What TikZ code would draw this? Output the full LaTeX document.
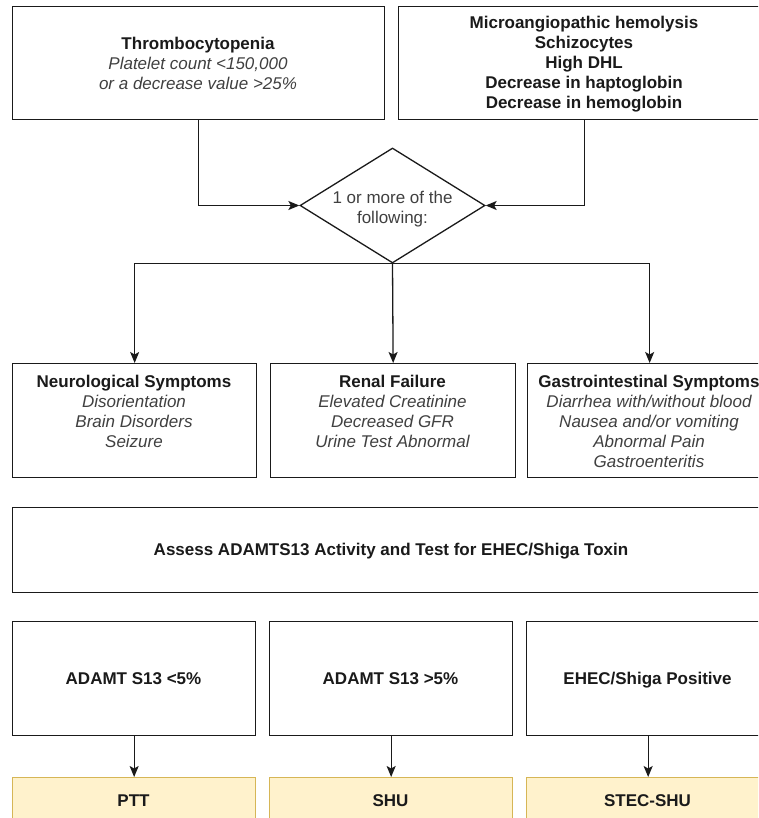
\documentclass[tikz,border=0pt]{standalone}
\usepackage{fontspec}
\setmainfont{Liberation Sans}
\usetikzlibrary{arrows.meta,shapes.geometric}
\definecolor{edge}{HTML}{1A1A1A}
\definecolor{sub}{HTML}{404040}
\definecolor{yfill}{HTML}{FFF2CC}
\definecolor{ystroke}{HTML}{D6B656}
\tikzset{
  box/.style={draw=edge, line width=1.3pt, rectangle, inner sep=0pt, anchor=north west},
  ybox/.style={box, draw=ystroke, fill=yfill},
  lbl/.style={inner sep=0pt, align=center, font=\fontsize{17}{20}\selectfont, text=edge},
  arr/.style={draw=edge, line width=1.3pt, -{Stealth[length=11pt,width=9pt,inset=2.5pt]}},
}
\newcommand{\hd}[1]{{\bfseries #1}}
\newcommand{\itl}[1]{{\itshape\color{sub}#1}}
\begin{document}
\begin{tikzpicture}[x=1pt,y=-1pt]
  \useasboundingbox (0,0) rectangle (758,818);
  \fill[white] (0,0) rectangle (758,818);
  \clip (0,0) rectangle (758,818);

  % top row
  \node[box, minimum width=372pt, minimum height=113pt] (tl) at (12,6) {};
  \node[box, minimum width=372pt, minimum height=113pt] (tr) at (398,6) {};
  \node[lbl, anchor=north] (tlt) at (198,35)
    {\strut\hd{Thrombocytopenia}\\\itl{Platelet count <150,000}\\\itl{or a decrease value >25\%}};
  \node[lbl, anchor=north] (trt) at (584,14)
    {\strut\hd{Microangiopathic hemolysis}\\\hd{Schizocytes}\\\hd{High DHL}\\\hd{Decrease in haptoglobin}\\\hd{Decrease in hemoglobin}};

  % decision
  \node[diamond, draw=edge, line width=1.3pt, inner sep=0pt, minimum width=185pt, minimum height=115pt] (dia) at (392.5,205.5) {};
  \node[lbl, anchor=north, text=sub] (diat) at (392.5,189) {\strut 1 or more of the\\following:};

  \draw[arr] (tl.south) |- (dia.west);
  \draw[arr] (tr.south) |- (dia.east);

  % symptom row
  \node[box, minimum width=244pt, minimum height=114pt] (m1) at (12,363) {};
  \node[box, minimum width=245pt, minimum height=114pt] (m2) at (270,363) {};
  \node[box, minimum width=244pt, minimum height=114pt] (m3) at (527,363) {};
  \node[lbl, anchor=north] (m1t) at (134,373)
    {\strut\hd{Neurological Symptoms}\\\itl{Disorientation}\\\itl{Brain Disorders}\\\itl{Seizure}};
  \node[lbl, anchor=north] (m2t) at (392.5,373)
    {\strut\hd{Renal Failure}\\\itl{Elevated Creatinine}\\\itl{Decreased GFR}\\\itl{Urine Test Abnormal}};
  \node[lbl, anchor=north] (m3t) at (649,373)
    {\strut\hd{Gastrointestinal Symptoms}\\\itl{Diarrhea with/without blood}\\\itl{Nausea and/or vomiting}\\\itl{Abnormal Pain}\\\itl{Gastroenteritis}};

  \draw[arr] (dia.south) -| (m1.north);
  \draw[arr] (dia.south) -- (m2.north);
  \draw[arr] (dia.south) -| (m3.north);

  % assess
  \node[box, minimum width=758pt, minimum height=85pt] (as) at (12,507) {};
  \node[lbl, anchor=base] (ast) at (391,555) {\hd{Assess ADAMTS13 Activity and Test for EHEC/Shiga Toxin}};

  % result row
  \node[box, minimum width=243pt, minimum height=114pt] (b1) at (12,621) {};
  \node[box, minimum width=243pt, minimum height=114pt] (b2) at (269,621) {};
  \node[box, minimum width=243pt, minimum height=114pt] (b3) at (526,621) {};
  \node[lbl, anchor=base] (b1t) at (133.5,684) {\hd{ADAMT S13 <5\%}};
  \node[lbl, anchor=base] (b2t) at (390.5,684) {\hd{ADAMT S13 >5\%}};
  \node[lbl, anchor=base] (b3t) at (647.5,684) {\hd{EHEC/Shiga Positive}};

  % diagnosis row
  \node[ybox, minimum width=243pt, minimum height=60pt] (y1) at (12,777) {};
  \node[ybox, minimum width=243pt, minimum height=60pt] (y2) at (269,777) {};
  \node[ybox, minimum width=243pt, minimum height=60pt] (y3) at (526,777) {};
  \node[lbl, anchor=base] (y1t) at (133.5,806) {\hd{PTT}};
  \node[lbl, anchor=base] (y2t) at (390.5,806) {\hd{SHU}};
  \node[lbl, anchor=base] (y3t) at (647.5,806) {\hd{STEC-SHU}};

  \draw[arr] (b1.south) -- (y1.north);
  \draw[arr] (b2.south) -- (y2.north);
  \draw[arr] (b3.south) -- (y3.north);
\end{tikzpicture}
\end{document}
